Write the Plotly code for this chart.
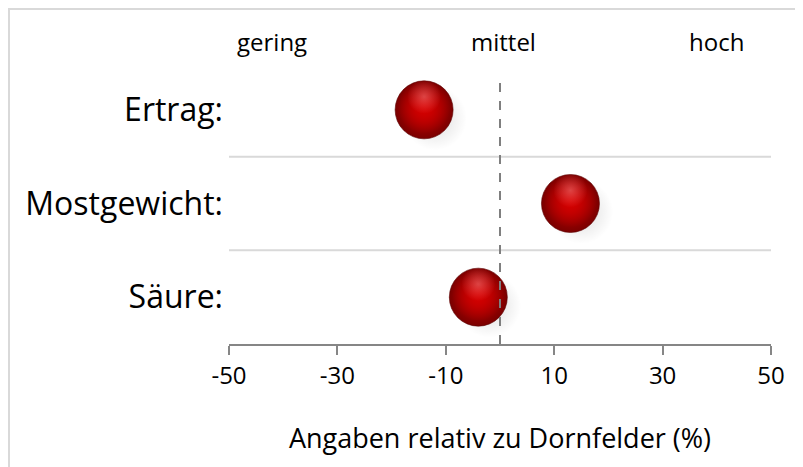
import plotly.graph_objects as go

# ---- data ----
categories = ["Säure:", "Mostgewicht:", "Ertrag:"]
values = [-4, 13, -14]
tick_values = [-50, -30, -10, 10, 30, 50]
level_labels = ["gering", "mittel", "hoch"]
level_x = [-42, 0.7, 40]
x_title = "Angaben relativ zu Dornfelder (%)"

# page body has an 8px default margin -> compensate
OFF = 8
W, H = 803 - OFF, 467 - OFF
ml, mr, mt, mb = 229 - OFF, 32, 63 - OFF, 123
pw, ph = W - ml - mr, H - mt - mb
ypos = list(range(len(categories)))
font = "Open Sans"

fig = go.Figure()

# (radial gradient: marker.color = edge colour, gradient.color = centre colour)
# soft shadow
fig.add_trace(go.Scatter(
    x=[v + 2.0 for v in values], y=[p - 0.09 for p in ypos], mode="markers",
    marker=dict(size=64, color="rgba(0,0,0,0)",
                gradient=dict(type="radial", color="rgba(0,0,0,0.14)"),
                line=dict(width=0)),
    hoverinfo="skip", showlegend=False))
# sphere base (dark rim)
fig.add_trace(go.Scatter(
    x=values, y=ypos, mode="markers",
    marker=dict(size=58, color="#7a0000",
                gradient=dict(type="radial", color="#cc0000"),
                line=dict(width=0.6, color="#5a0000")),
    showlegend=False))
# sphere body (bright red core)
fig.add_trace(go.Scatter(
    x=values, y=[p + 0.03 for p in ypos], mode="markers",
    marker=dict(size=53, color="rgba(208,0,0,0)",
                gradient=dict(type="radial", color="rgba(212,0,0,1)"),
                line=dict(width=0)),
    hoverinfo="skip", showlegend=False))
# highlight
fig.add_trace(go.Scatter(
    x=values, y=[p + 0.14 for p in ypos], mode="markers",
    marker=dict(size=34, color="rgba(255,140,140,0)",
                gradient=dict(type="radial", color="rgba(255,150,150,0.45)"),
                line=dict(width=0)),
    hoverinfo="skip", showlegend=False))

shapes = []
# horizontal separators between categories
for b in range(len(categories) - 1):
    shapes.append(dict(type="line", xref="paper", x0=0, x1=1, yref="y",
                       y0=b + 0.5, y1=b + 0.5,
                       line=dict(color="#d9d9d9", width=2), layer="below"))
# dashed reference line at 0 (drawn over the markers)
shapes.append(dict(type="line", xref="x", x0=0, x1=0, yref="y",
                   y0=-0.5, y1=len(categories) - 0.5 - 0.16,
                   line=dict(color="#7f7f7f", width=2, dash="dash"), layer="above"))
# outer chart border
bx0, by0 = 9 - OFF, 9 - OFF
shapes.append(dict(type="rect", xref="paper", yref="paper",
                   x0=(bx0 - ml) / pw, x1=(W + 5 - ml) / pw,
                   y0=-(H + 5 - mt - ph) / ph, y1=1 + (mt - by0) / ph,
                   line=dict(color="#d9d9d9", width=2), layer="below"))

annotations = []
for lab, lx in zip(level_labels, level_x):
    annotations.append(dict(text=lab, x=lx, xref="x", y=1 + (mt - (42 - OFF)) / ph, yref="paper",
                            showarrow=False, font=dict(family=font, size=24, color="#000"),
                            xanchor="center", yanchor="middle"))

fig.update_layout(
    width=W, height=H,
    margin=dict(l=ml, r=mr, t=mt, b=mb, pad=0),
    paper_bgcolor="white", plot_bgcolor="white",
    font=dict(family=font, color="#000"),
    shapes=shapes, annotations=annotations,
    xaxis=dict(range=[-50, 50], tickvals=tick_values, ticktext=[str(t) for t in tick_values],
               showgrid=False, zeroline=False, showline=True, linecolor="#868686", linewidth=2,
               ticks="outside", ticklen=9, tickwidth=2, tickcolor="#868686",
               tickfont=dict(family=font, size=24, color="#000"),
               title=dict(text=x_title, font=dict(family=font, size=27, color="#000"), standoff=39)),
    yaxis=dict(range=[-0.5, len(categories) - 0.5], tickvals=ypos, ticktext=categories,
               showgrid=False, zeroline=False, showline=False, ticks="",
               tickfont=dict(family=font, size=32, color="#000"), ticklabelstandoff=5),
)

fig.write_html("out.html")
